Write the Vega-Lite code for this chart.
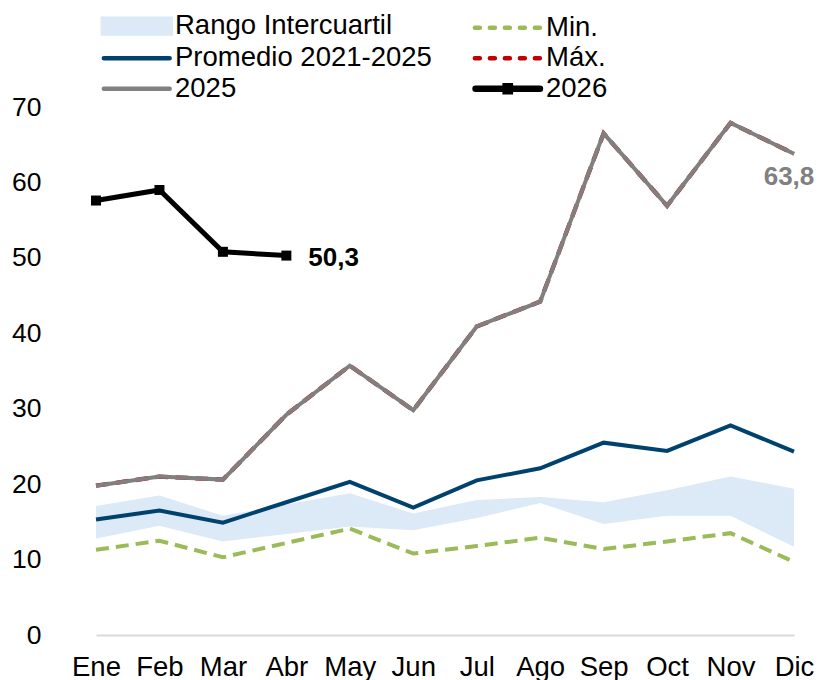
{
  "$schema": "https://vega.github.io/schema/vega-lite/v6.json",
  "width": 755,
  "height": 528,
  "autosize": {"type": "none"},
  "padding": {"left": 65, "top": 107, "right": 0, "bottom": 45},
  "config": {
    "view": {"stroke": null},
    "font": "Liberation Sans",
    "locale": {"number": {"decimal": ",", "thousands": ".", "grouping": [3], "currency": ["", " €"]}}
  },
  "datasets": {
    "lines": [
      {"month": "Ene", "series": "2025", "value": 19.8},
      {"month": "Feb", "series": "2025", "value": 21.0},
      {"month": "Mar", "series": "2025", "value": 20.6},
      {"month": "Abr", "series": "2025", "value": 29.2},
      {"month": "May", "series": "2025", "value": 35.7},
      {"month": "Jun", "series": "2025", "value": 29.8},
      {"month": "Jul", "series": "2025", "value": 40.9},
      {"month": "Ago", "series": "2025", "value": 44.2},
      {"month": "Sep", "series": "2025", "value": 66.5},
      {"month": "Oct", "series": "2025", "value": 56.9},
      {"month": "Nov", "series": "2025", "value": 67.9},
      {"month": "Dic", "series": "2025", "value": 63.8},
      {"month": "Ene", "series": "Máx.", "value": 19.8},
      {"month": "Feb", "series": "Máx.", "value": 21.0},
      {"month": "Mar", "series": "Máx.", "value": 20.6},
      {"month": "Abr", "series": "Máx.", "value": 29.2},
      {"month": "May", "series": "Máx.", "value": 35.7},
      {"month": "Jun", "series": "Máx.", "value": 29.8},
      {"month": "Jul", "series": "Máx.", "value": 40.9},
      {"month": "Ago", "series": "Máx.", "value": 44.2},
      {"month": "Sep", "series": "Máx.", "value": 66.5},
      {"month": "Oct", "series": "Máx.", "value": 56.9},
      {"month": "Nov", "series": "Máx.", "value": 67.9},
      {"month": "Dic", "series": "Máx.", "value": 63.8},
      {"month": "Ene", "series": "Promedio 2021-2025", "value": 15.3},
      {"month": "Feb", "series": "Promedio 2021-2025", "value": 16.5},
      {"month": "Mar", "series": "Promedio 2021-2025", "value": 14.9},
      {"month": "Abr", "series": "Promedio 2021-2025", "value": 17.6},
      {"month": "May", "series": "Promedio 2021-2025", "value": 20.3},
      {"month": "Jun", "series": "Promedio 2021-2025", "value": 16.9},
      {"month": "Jul", "series": "Promedio 2021-2025", "value": 20.5},
      {"month": "Ago", "series": "Promedio 2021-2025", "value": 22.1},
      {"month": "Sep", "series": "Promedio 2021-2025", "value": 25.5},
      {"month": "Oct", "series": "Promedio 2021-2025", "value": 24.4},
      {"month": "Nov", "series": "Promedio 2021-2025", "value": 27.8},
      {"month": "Dic", "series": "Promedio 2021-2025", "value": 24.3},
      {"month": "Ene", "series": "Min.", "value": 11.3},
      {"month": "Feb", "series": "Min.", "value": 12.5},
      {"month": "Mar", "series": "Min.", "value": 10.3},
      {"month": "Abr", "series": "Min.", "value": 12.2},
      {"month": "May", "series": "Min.", "value": 14.1},
      {"month": "Jun", "series": "Min.", "value": 10.8},
      {"month": "Jul", "series": "Min.", "value": 11.8},
      {"month": "Ago", "series": "Min.", "value": 12.9},
      {"month": "Sep", "series": "Min.", "value": 11.4},
      {"month": "Oct", "series": "Min.", "value": 12.4},
      {"month": "Nov", "series": "Min.", "value": 13.5},
      {"month": "Dic", "series": "Min.", "value": 9.7},
      {"month": "Ene", "series": "2026", "value": 57.6},
      {"month": "Feb", "series": "2026", "value": 59.0},
      {"month": "Mar", "series": "2026", "value": 50.8},
      {"month": "Abr", "series": "2026", "value": 50.3}
    ],
    "band": [
      {"month": "Ene", "q1": 12.8, "q3": 17.1},
      {"month": "Feb", "q1": 14.5, "q3": 18.5},
      {"month": "Mar", "q1": 12.4, "q3": 15.8},
      {"month": "Abr", "q1": 13.4, "q3": 17.3},
      {"month": "May", "q1": 14.4, "q3": 18.8},
      {"month": "Jun", "q1": 13.9, "q3": 16.1},
      {"month": "Jul", "q1": 15.5, "q3": 17.9},
      {"month": "Ago", "q1": 17.5, "q3": 18.3},
      {"month": "Sep", "q1": 14.7, "q3": 17.6},
      {"month": "Oct", "q1": 15.8, "q3": 19.2},
      {"month": "Nov", "q1": 15.8, "q3": 21.0},
      {"month": "Dic", "q1": 11.7, "q3": 19.4}
    ]
  },
  "data": {"name": "lines"},
  "encoding": {
    "x": {
      "field": "month",
      "type": "ordinal",
      "sort": ["Ene", "Feb", "Mar", "Abr", "May", "Jun", "Jul", "Ago", "Sep", "Oct", "Nov", "Dic"],
      "scale": {"type": "point", "range": [31, 729], "padding": 0},
      "axis": {
        "title": null,
        "labelAngle": 0,
        "ticks": false,
        "domainColor": "#d9d9d9",
        "domainWidth": 2,
        "labelFontSize": 27.5,
        "labelColor": "#000000",
        "labelFont": "Liberation Sans",
        "labelPadding": 18
      }
    },
    "y": {
      "field": "value",
      "type": "quantitative",
      "scale": {"domain": [0, 70], "nice": false},
      "axis": {
        "title": null,
        "values": [0, 10, 20, 30, 40, 50, 60, 70],
        "domain": false,
        "ticks": false,
        "grid": false,
        "labelFontSize": 26.5,
        "labelColor": "#000000",
        "labelFont": "Liberation Sans",
        "labelPadding": 24
      }
    }
  },
  "layer": [
    {
      "data": {"name": "band"},
      "mark": {"type": "area", "color": "#dce9f6", "opacity": 1},
      "encoding": {
        "y": {"field": "q1", "type": "quantitative"},
        "y2": {"field": "q3"}
      }
    },
    {
      "transform": [{"filter": "datum.series === 'Min.'"}],
      "mark": {"type": "line", "color": "#9bbb59", "strokeWidth": 4, "strokeDash": [13, 7]}
    },
    {
      "transform": [{"filter": "datum.series === 'Máx.'"}],
      "mark": {"type": "line", "color": "#c00000", "strokeWidth": 4.3, "strokeDash": [13, 7]}
    },
    {
      "transform": [{"filter": "datum.series === '2025'"}],
      "mark": {"type": "line", "color": "#808080", "strokeWidth": 4}
    },
    {
      "transform": [{"filter": "datum.series === 'Promedio 2021-2025'"}],
      "mark": {"type": "line", "color": "#00426e", "strokeWidth": 4}
    },
    {
      "transform": [{"filter": "datum.series === '2026'"}],
      "mark": {"type": "line", "strokeWidth": 5},
      "encoding": {
        "color": {
          "field": "series",
          "type": "nominal",
          "scale": {
            "domain": ["Rango Intercuartil", "Promedio 2021-2025", "2025", "Min.", "Máx.", "2026"],
            "range": ["#dce9f6", "#00426e", "#808080", "#9bbb59", "#c00000", "#000000"]
          },
          "legend": {
            "title": null,
            "orient": "none",
            "legendX": 58,
            "legendY": -95,
            "columns": 2,
            "padding": 0,
            "symbolSize": 4900,
            "symbolStrokeWidth": 4,
            "labelOffset": 24.5,
            "columnPadding": 30,
            "rowPadding": 0.5,
            "labelFontSize": 27.5,
            "labelFont": "Liberation Sans",
            "labelColor": "#000000",
            "labelLimit": 400,
            "encode": {
              "symbols": {
                "update": {
                  "shape": {"signal": "datum.value === 'Rango Intercuartil' ? 'M-0.97,-0.21H0.97V0.21H-0.97Z' : (datum.value === '2026' ? 'M-0.92,0H0.92M-0.06,-0.07H0.06V0.07H-0.06Z' : 'M-0.94,0H0.94')"},
                  "size": {"value": 4900},
                  "fill": {"signal": "datum.value === 'Rango Intercuartil' ? '#dce9f6' : (datum.value === '2026' ? '#000000' : 'transparent')"},
                  "stroke": {"signal": "datum.value === 'Rango Intercuartil' ? 'transparent' : datum.value === 'Min.' ? '#9bbb59' : datum.value === 'Promedio 2021-2025' ? '#00426e' : datum.value === 'Máx.' ? '#c00000' : datum.value === '2025' ? '#808080' : '#000000'"},
                  "strokeWidth": {"signal": "datum.value === '2026' ? 6.5 : 4.5"},
                  "strokeDash": {"signal": "datum.value === 'Min.' || datum.value === 'Máx.' ? [5, 10] : [1, 0]"},
                  "strokeCap": {"value": "round"},
                  "opacity": {"value": 1}
                }
              }
            }
          }
        }
      }
    },
    {
      "transform": [{"filter": "datum.series === '2026'"}],
      "mark": {"type": "point", "shape": "square", "filled": true, "color": "#000000", "size": 100, "opacity": 1}
    },
    {
      "transform": [{"filter": "datum.series === '2026' && datum.month === 'Abr'"}],
      "mark": {"type": "text", "align": "left", "baseline": "middle", "dx": 22, "dy": 2, "fontSize": 26, "fontWeight": "bold", "color": "#000000", "font": "Liberation Sans"},
      "encoding": {"text": {"field": "value", "type": "quantitative", "format": ".1f"}}
    },
    {
      "transform": [{"filter": "datum.series === '2025' && datum.month === 'Dic'"}],
      "mark": {"type": "text", "align": "center", "baseline": "middle", "dx": -5, "dy": 23, "fontSize": 26, "fontWeight": "bold", "color": "#808080", "font": "Liberation Sans"},
      "encoding": {"text": {"field": "value", "type": "quantitative", "format": ".1f"}}
    }
  ]
}
